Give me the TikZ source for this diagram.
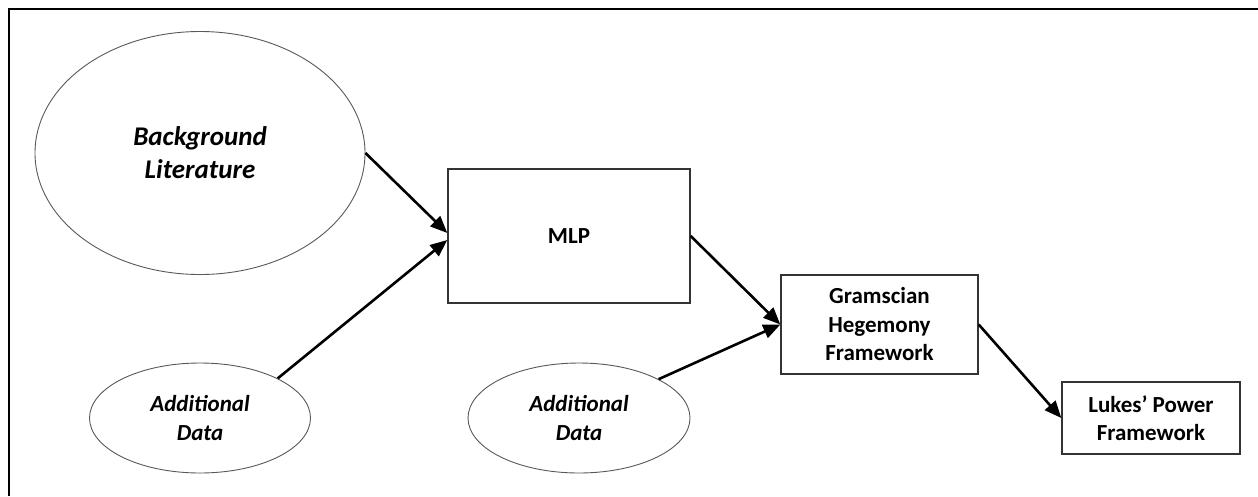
\documentclass[tikz,border=0pt]{standalone}
\usepackage{fontspec}
\setmainfont{Carlito}
\usetikzlibrary{shapes.geometric,arrows.meta}

\tikzset{
  oval/.style={ellipse, draw=black!65, line width=0.9pt, inner sep=0pt, align=center,
               font=\fontsize{23}{28.5}\selectfont\bfseries\itshape},
  stagebox/.style={rectangle, draw=black!80, line width=1.4pt, inner sep=0pt, align=center,
                   font=\fontsize{23}{28.5}\selectfont\bfseries},
  flow/.style={line width=2.6pt, -{Triangle[length=17pt,width=14pt]}, shorten >=0pt}
}

\begin{document}
\begin{tikzpicture}[x=1pt,y=-1pt]
  \useasboundingbox (0,0) rectangle (1258,496);
  \fill[white] (0,0) rectangle (1258,496);

  % outer frame (top and left rules)
  \draw[line width=2.6pt] (1258,9) -- (9,9) -- (9,496);

  % sources
  \node[oval, minimum width=330pt, minimum height=243pt,
        font=\fontsize{27}{33}\selectfont\bfseries\itshape] (bl) at (200,153)
        {Background\\Literature};
  \node[oval, minimum width=221pt, minimum height=110pt] (ad1) at (200,418)
        {Additional\\Data};
  \node[oval, minimum width=222pt, minimum height=110pt] (ad2) at (579,418)
        {Additional\\Data};

  % stages
  \node[stagebox, minimum width=242pt, minimum height=134pt] (mlp) at (569,236) {MLP};
  \node[stagebox, minimum width=197pt, minimum height=99pt] (gram) at (879.5,324.5)
        {Gramscian\\Hegemony\\Framework};
  \node[stagebox, minimum width=178pt, minimum height=72pt] (lukes) at (1151,418)
        {Lukes’ Power\\Framework};

  % connectors
  \draw[flow] (bl.east) -- ([yshift=3pt]mlp.west);
  \draw[flow] (ad1.27) -- ([yshift=-4pt]mlp.west);
  \draw[flow] (mlp.east) -- (gram.west);
  \draw[flow] (ad2.26) -- (gram.west);
  \draw[flow] (gram.east) -- (lukes.west);
\end{tikzpicture}
\end{document}
